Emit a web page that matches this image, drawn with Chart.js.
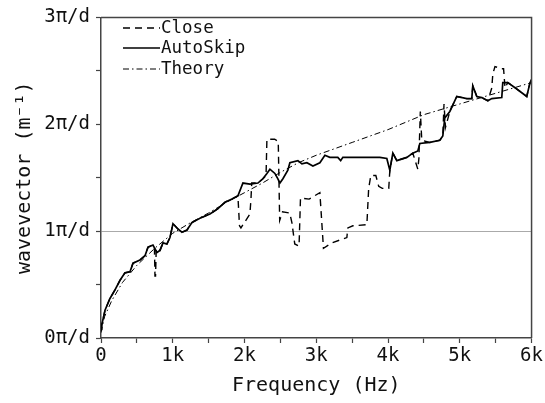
<!DOCTYPE html>
<html lang="en">
<head>
  <meta charset="UTF-8">
  <title>Wavevector vs Frequency</title>
  <script src="https://cdn.jsdelivr.net/npm/chart.js"></script>
  <style>
    body { margin: 0; background: #fff; }
    canvas { display: block; }
  </style>
</head>
<body>
  <canvas id="waveChart" width="545" height="403"></canvas>

  <script>
    // --- data (frequency in Hz, wavevector in units of pi/d) ---
    const freqClose = [0,10,56,125,195,265,334,404,446,543,613,655,724,745,752,760,770,822,864,919,961,1003,1072,1128,1198,1267,1379,1518,1630,1727,1825,1908,1930,1950,2075,2090,2100,2187,2256,2300,2312,2420,2470,2490,2530,2630,2660,2700,2760,2780,2900,3050,3100,3217,3426,3440,3510,3705,3730,3760,3830,3870,3920,4010,4025,4067,4122,4262,4345,4415,4430,4450,4470,4582,4721,4763,4780,4800,4861,4958,5097,5167,5181,5237,5306,5390,5446,5460,5490,5585,5610,5630,5669,5794,5933,5975,6000];
    const valClose  = [0.08,0.12,0.26,0.37,0.45,0.54,0.61,0.62,0.70,0.73,0.77,0.85,0.87,0.84,0.58,0.58,0.84,0.82,0.89,0.88,0.94,1.07,1.02,0.99,1.01,1.08,1.12,1.16,1.21,1.27,1.30,1.33,1.05,1.03,1.16,1.30,1.45,1.45,1.49,1.52,1.86,1.86,1.84,1.10,1.18,1.17,1.08,0.88,0.86,1.31,1.30,1.36,0.84,0.89,0.94,1.03,1.05,1.06,1.40,1.52,1.52,1.42,1.40,1.40,1.57,1.73,1.66,1.69,1.73,1.58,1.68,2.12,1.85,1.83,1.85,1.89,2.19,1.97,2.12,2.26,2.24,2.24,2.36,2.26,2.25,2.22,2.34,2.47,2.54,2.52,2.52,2.34,2.39,2.33,2.26,2.38,2.42];

    const freqAuto = [0,10,56,125,195,265,334,404,446,543,613,655,724,780,822,864,919,961,1003,1072,1128,1198,1267,1379,1518,1630,1727,1825,1908,1978,2075,2187,2256,2312,2354,2423,2465,2493,2535,2604,2632,2744,2800,2869,2953,3050,3120,3189,3300,3340,3370,3400,3600,3886,3983,4025,4067,4122,4262,4345,4415,4443,4582,4721,4763,4791,4861,4958,5097,5167,5181,5237,5306,5390,5446,5585,5599,5669,5794,5933,5975,6000];
    const valAuto  = [0.08,0.12,0.26,0.37,0.45,0.54,0.61,0.62,0.70,0.73,0.77,0.85,0.87,0.80,0.82,0.89,0.88,0.94,1.07,1.02,0.99,1.01,1.08,1.12,1.16,1.21,1.27,1.30,1.33,1.45,1.44,1.45,1.49,1.54,1.58,1.54,1.49,1.45,1.49,1.57,1.64,1.66,1.63,1.64,1.61,1.64,1.71,1.69,1.69,1.66,1.69,1.69,1.69,1.69,1.68,1.57,1.73,1.66,1.69,1.73,1.75,1.82,1.83,1.85,1.89,2.06,2.12,2.26,2.24,2.24,2.36,2.26,2.25,2.22,2.24,2.25,2.39,2.39,2.33,2.26,2.38,2.42];

    const freqTheory = [0,50,150,300,500,750,1000,1250,1500,1750,2000,2250,2500,2750,3000,3250,3500,3750,4000,4250,4500,5000,5500,6000];
    const valTheory  = [0.05,0.2,0.35,0.52,0.68,0.84,0.98,1.08,1.17,1.27,1.36,1.45,1.55,1.64,1.71,1.77,1.83,1.89,1.95,2.02,2.09,2.19,2.29,2.39];

    const xTickLabels = ['0','1k','2k','3k','4k','5k','6k'];
    const yTickLabels = ['0π/d','1π/d','2π/d','3π/d'];
    const seriesNames = ['Close','AutoSkip','Theory'];

    const FONT = 'DejaVu Sans Mono';
    const toPts = (xs, ys) => xs.map((x, i) => ({ x: x, y: ys[i] }));

    // legend drawn inside the plot, top-left, like the original figure
    const insideLegend = {
      id: 'insideLegend',
      afterDraw(chart) {
        const ctx = chart.ctx;
        const rows = [28, 48, 69];
        ctx.save();
        ctx.font = '17.5px "' + FONT + '"';
        ctx.textBaseline = 'middle';
        ctx.fillStyle = '#111';
        chart.data.datasets.forEach((ds, i) => {
          const y = rows[i];
          ctx.strokeStyle = '#000';
          ctx.lineWidth = ds.borderWidth;
          ctx.setLineDash(ds.borderDash || []);
          ctx.beginPath();
          ctx.moveTo(123, y);
          ctx.lineTo(160, y);
          ctx.stroke();
          ctx.setLineDash([]);
          ctx.fillText(ds.label, 161, y);
        });
        ctx.restore();
      }
    };

    // top + right edges of the box
    const frame = {
      id: 'frame',
      afterDraw(chart) {
        const { ctx, chartArea: a } = chart;
        ctx.save();
        ctx.strokeStyle = '#444';
        ctx.lineWidth = 1.5;
        ctx.beginPath();
        ctx.moveTo(a.left, a.top);
        ctx.lineTo(a.right, a.top);
        ctx.lineTo(a.right, a.bottom);
        ctx.stroke();
        ctx.restore();
      }
    };

    const ctx = document.getElementById('waveChart').getContext('2d');
    const chart = new Chart(ctx, {
      type: 'line',
      data: {
        datasets: [
          { label: seriesNames[0], data: toPts(freqClose, valClose), borderColor: '#000', borderWidth: 1.4, borderDash: [7, 5], pointRadius: 0, fill: false, tension: 0 },
          { label: seriesNames[1], data: toPts(freqAuto, valAuto), borderColor: '#000', borderWidth: 1.7, pointRadius: 0, fill: false, tension: 0 },
          { label: seriesNames[2], data: toPts(freqTheory, valTheory), borderColor: '#000', borderWidth: 1, borderDash: [6, 3, 1.5, 3], pointRadius: 0, fill: false, tension: 0 }
        ]
      },
      options: {
        responsive: false,
        animation: false,
        devicePixelRatio: 1,
        layout: { padding: { left: 0, right: 13, top: 16, bottom: 0 } },
        plugins: { legend: { display: false }, tooltip: { enabled: false } },
        scales: {
          x: {
            type: 'linear',
            min: 0, max: 6000,
            afterFit: s => { s.height = 65; },
            border: { color: '#444', width: 1.5 },
            grid: { drawOnChartArea: false, tickLength: 5, tickColor: '#444', tickWidth: 1.2 },
            ticks: {
              stepSize: 500, autoSkip: false, maxRotation: 0, padding: 2,
              color: '#111', font: { family: FONT, size: 19 },
              callback: v => (v % 1000 === 0 ? xTickLabels[v / 1000] : '')
            },
            title: { display: true, text: 'Frequency (Hz)', color: '#111', font: { family: FONT, size: 20 }, padding: { top: 0, bottom: 5 } }
          },
          y: {
            min: 0, max: 3,
            afterFit: s => { s.width = 101; },
            border: { color: '#444', width: 1.5 },
            grid: {
              tickLength: 5, tickColor: '#444', tickWidth: 1.2,
              color: c => (c.tick && c.tick.value === 1 ? '#aaaaaa' : 'rgba(0,0,0,0)'),
              lineWidth: 1
            },
            ticks: {
              stepSize: 0.5, autoSkip: false, padding: 6,
              color: '#111', font: { family: FONT, size: 19 },
              callback: v => (Number.isInteger(v) ? yTickLabels[v] : '')
            },
            title: { display: true, text: 'wavevector (m⁻¹)', color: '#111', font: { family: FONT, size: 20 }, padding: { top: 13, bottom: 0 } }
          }
        }
      },
      plugins: [insideLegend, frame]
    });
  </script>
</body>
</html>
